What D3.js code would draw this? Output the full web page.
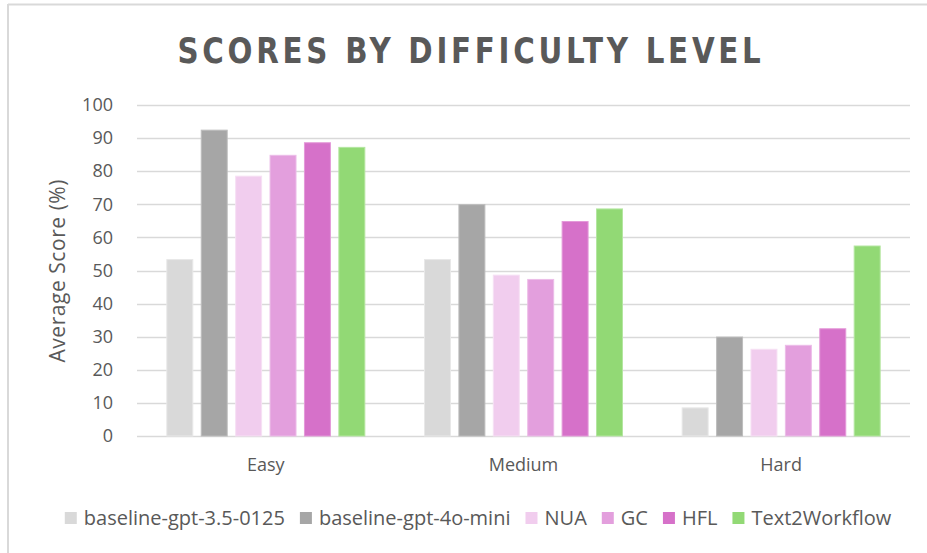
<!DOCTYPE html>
<html>
<head>
<meta charset="utf-8">
<script src="https://cdn.jsdelivr.net/npm/d3@7"></script>
<style>
  body { margin: 0; background: #fff; }
  text { font-family: "Open Sans", "Liberation Sans", sans-serif; fill: #595959; }
</style>
</head>
<body>
<div id="chart"></div>
<script>
// values
var levels = ["Easy", "Medium", "Hard"];
var models = ["baseline-gpt-3.5-0125", "baseline-gpt-4o-mini", "NUA", "GC", "HFL", "Text2Workflow"];
var colors = ["#d9d9d9", "#a6a6a6", "#f1cdee", "#e39fdd", "#d671c9", "#92d975"];
var strokes = ["#e8e8e8", "#bdbdbd", "#f6e0f4", "#ecbde8", "#e49ad9", "#b4e6a0"];
var yTicks = [0, 10, 20, 30, 40, 50, 60, 70, 80, 90, 100];

var scores = {
  "baseline-gpt-3.5-0125": [53.3, 53.3, 8.5],
  "baseline-gpt-4o-mini":  [92.4, 69.9, 29.9],
  "NUA":                   [78.5, 48.6, 26.2],
  "GC":                    [84.8, 47.3, 27.4],
  "HFL":                   [88.6, 64.8, 32.4],
  "Text2Workflow":         [87.2, 68.6, 57.4]
};

var width = 927, height = 553;
var margin = {left: 137, right: 17, top: 105, bottom: 117};

var svg = d3.select("#chart").append("svg")
  .attr("width", width)
  .attr("height", height);

// outer frame (only top and left edges show in the picture)
svg.append("line").attr("x1", 8).attr("x2", width).attr("y1", 4.5).attr("y2", 4.5)
  .attr("stroke", "#d9d9d9").attr("stroke-width", 2);
svg.append("line").attr("x1", 8).attr("x2", 8).attr("y1", 4).attr("y2", height)
  .attr("stroke", "#d9d9d9").attr("stroke-width", 2);

var x0 = d3.scaleBand()
  .domain(levels)
  .range([margin.left, width - margin.right])
  .paddingInner(0)
  .paddingOuter(0);

// bars fill 198px in the middle of each 258px group
var gPad = (x0.bandwidth() - 198) / 2;
var x1 = d3.scaleBand()
  .domain(models)
  .range([gPad, x0.bandwidth() - gPad])
  .paddingInner(0.245)
  .paddingOuter(0);

var y = d3.scaleLinear()
  .domain([0, 100])
  .range([height - margin.bottom, margin.top]);

// gridlines
svg.append("g")
  .selectAll("line")
  .data(yTicks)
  .enter().append("line")
    .attr("x1", margin.left)
    .attr("x2", width - margin.right)
    .attr("y1", function(d) { return Math.round(y(d)) + 0.5; })
    .attr("y2", function(d) { return Math.round(y(d)) + 0.5; })
    .attr("stroke", "#d9d9d9")
    .attr("stroke-width", 1.5);

// y axis labels
var yAxis = d3.axisLeft(y).tickValues(yTicks).tickSize(0).tickPadding(0);
var yg = svg.append("g")
  .attr("transform", "translate(" + 113 + ",0)")
  .call(yAxis);
yg.select(".domain").remove();
yg.selectAll("text")
  .style("font-size", "18px")
  .attr("fill", "#595959");

// x axis labels
var xAxis = d3.axisBottom(x0).tickSize(0).tickPadding(0);
var xg = svg.append("g")
  .attr("transform", "translate(0," + 458 + ")")
  .call(xAxis);
xg.select(".domain").remove();
xg.selectAll("text")
  .style("font-size", "18px")
  .attr("fill", "#595959");

// bars
var groups = svg.append("g")
  .selectAll("g")
  .data(levels)
  .enter().append("g")
    .attr("transform", function(d) { return "translate(" + x0(d) + ",0)"; });

groups.selectAll("rect")
  .data(function(d, i) {
    return models.map(function(m, j) { return {model: m, value: scores[m][i], idx: j}; });
  })
  .enter().append("rect")
    .attr("x", function(d) { return x1(d.model); })
    .attr("y", function(d) { return y(d.value); })
    .attr("width", x1.bandwidth())
    .attr("height", function(d) { return y(0) - y(d.value); })
    .attr("fill", function(d) { return colors[d.idx]; })
    .attr("stroke", function(d) { return strokes[d.idx]; })
    .attr("stroke-width", 1);

// title
svg.append("text")
  .attr("x", 471)
  .attr("y", 63)
  .attr("text-anchor", "middle")
  .attr("textLength", 587)
  .attr("lengthAdjust", "spacingAndGlyphs")
  .style("font-family", "'Liberation Sans Narrow', 'DejaVu Sans Condensed', sans-serif")
  .style("font-weight", "bold")
  .style("font-size", "35px")
  .style("letter-spacing", "4px")
  .text("SCORES BY DIFFICULTY LEVEL");

// y axis title
svg.append("text")
  .attr("transform", "translate(65,271) rotate(-90)")
  .attr("text-anchor", "middle")
  .attr("textLength", 183)
  .style("font-size", "21px")
  .text("Average Score (%)");

// legend
var legend = svg.append("g");
var lx = 0;
models.forEach(function(m, i) {
  var item = legend.append("g").attr("transform", "translate(" + lx + ",0)");
  item.append("rect")
    .attr("x", 0).attr("y", -6)
    .attr("width", 12).attr("height", 12)
    .attr("fill", colors[i]);
  var t = item.append("text")
    .attr("x", 19).attr("y", 7)
    .style("font-size", "20px")
    .text(m);
  lx += 19 + t.node().getComputedTextLength() + 15;
});
var legendW = lx - 15;
legend.attr("transform", "translate(" + (478 - legendW / 2) + ",518)");
</script>
</body>
</html>
